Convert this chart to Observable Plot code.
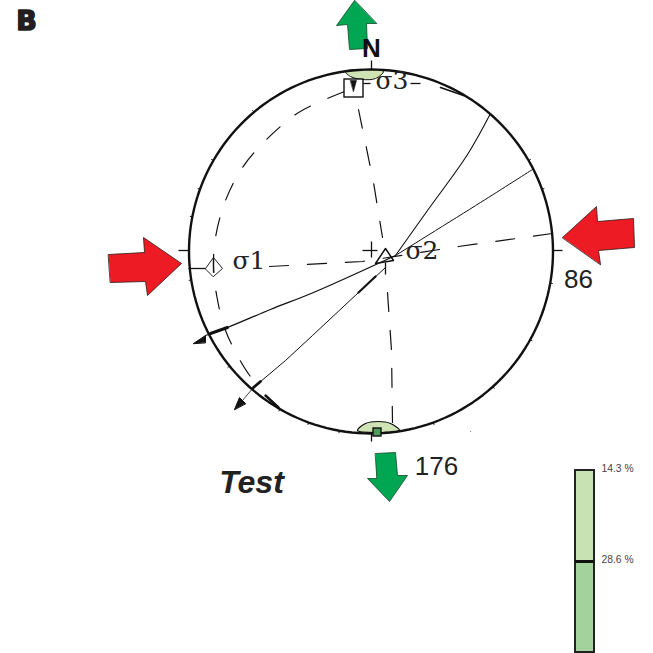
<!DOCTYPE html>
<html><head><meta charset="utf-8">
<script src="https://cdn.jsdelivr.net/npm/d3@7"></script>
<script src="https://cdn.jsdelivr.net/npm/@observablehq/plot@0.6"></script>
<style>html,body{margin:0;padding:0;background:#fff}svg{display:block}</style>
</head><body><div id="chart"></div>
<script>
// Stereonet units: origin at the net centre, x east, y north, radius 182.
const R = 182;
const azimuths = d3.range(0, 361, 2);
const rimTicks = [60,70,100,119,138,160,190,200,210,231,261,281,290,300,320];
const redWest = [[-262,-3],[-226,-1],[-227,14],[-189,-12],[-223,-44],[-225,-30],[-260,-31]];
const redEast = [[192,14],[226,45],[227,30],[263,33],[264,4],[228,1],[230,-13]];
const greenNorth = [[-16,251],[-34,226],[-23,227],[-21,202],[-3,203],[-4,228],[6,228]];
const greenSouth = [[5,-202],[25,-201],[27,-224],[37,-224],[19,-250],[-3,-227],[6,-227]];
const dashEW = [[-101,-15],[-8,-10],[88,5],[182,18]];
const dashNSnorth = [[-12,142],[3,69],[12,14]];
const dashNSsouth = [[17,-41],[21,-99],[22,-171]];
const dashCurve = [[-26,160],[-59,146],[-75,137],[-104,112],[-128,84],[-145,51],[-155,14],[-157,-14],[-154,-43],[-145,-79],[-128,-113],[-118,-128]];
const faultA = [[25,-4],[57,41],[97,97],[120,138]];
const faultB = [[25,-4],[110,49],[162,82]];
const faultC = [[25,-4],[-57,-41],[-100,-58],[-143,-76],[-165,-84]];
const faultD = [[15,-16],[-12,-41],[-58,-84],[-85,-109],[-117,-136]];
const faultDTail = [[-117,-136],[-128,-149]];
const thickC = [[-160,-82],[-143,-76]];
const thickD = [[5,-25],[-12,-41]];
const thickD2 = [[-117,-136],[-110,-130]];
const rimInnerSW = [[-105,-144],[-92,-156]];
const rimInnerNE = [[70,164],[93,156]];
const headC = [[-177,-92],[-165,-84],[-165,-91]];
const headD = [[-136,-158],[-131,-146],[-125,-152]];
const wedge = [[-20,171],[-14,171],[-17,160]];
const crescentN = [[-25,180],[-5,182],[13,180],[5,173],[-8,172],[-20,175]];
const crescentS = [[-13,-179],[-5,-172],[8,-170],[20,-172],[29,-179],[8,-181]];
const diamond = [[-165,-17],[-157,-6],[-148,-17],[-157,-25]];
const triangle = [[15,3],[5,-12],[23,-9]];
const ticks = [
  [1,191,1,182],[1,-182,1,-190],[183,1,192,1],[-192,1,-182,1],
  [-182,-17,-165,-17],[-157,-6,-157,-21],[-8,1,7,1],[1,10,1,-6],[15,-11,15,-23],
  [-7,168,0,168],[40,168,50,168]
];
const squares = [
  {x1:-26,x2:-7,y1:172,y2:154,fill:"#ffffff"},
  {x1:3,x2:11,y1:-177,y2:-185,fill:"#4f9a5d"}
];
const legendBars = [
  {x1:205,x2:224,y1:-219,y2:-310,fill:"#c9e2b3"},
  {x1:205,x2:224,y1:-310,y2:-401,fill:"#a3d29c"}
];
const legendLabels = ["14.3 %","28.6 %"];
const legendLabelX = [231,231];
const legendLabelY = [-217,-308];
const sigmaLabels = ["σ1","σ2","σ3"];
const sigmaX = [-138,35,5];
const sigmaY = [-9,1,171];

const pts = a => a.map(([x,y]) => ({x,y}));
const shape = (a, fill, stroke="#2a1a1a", sw=0.8, curve="linear-closed") => Plot.line(pts(a), {x:"x", y:"y", fill, stroke, strokeWidth:sw, curve});
const path = (a, sw=1, extra={}) => Plot.line(pts(a), {x:"x", y:"y", stroke:"#111", strokeWidth:sw, ...extra});
const circle = azimuths.map(a => ({x:0.5+R*Math.sin(a*Math.PI/180), y:R*Math.cos(a*Math.PI/180)}));
const dash = {strokeDasharray:"19 19"};

const plot = Plot.plot({
  width:653, height:653, margin:0,
  x:{domain:[-370,283], axis:null},
  y:{domain:[-402,251], axis:null},
  style:{background:"#fff"},
  marks:[
    shape(crescentN,"#cfe3b5","#111",1,"catmull-rom-closed"),
    shape(crescentS,"#cfe3b5","#111",1.2,"catmull-rom-closed"),
    path(dashEW,1.2,dash),
    path(dashNSnorth,1.2,dash),
    path(dashNSsouth,1.2,dash),
    path(dashCurve,1.2,{strokeDasharray:"18 19",curve:"catmull-rom"}),
    path(faultA,1.1,{curve:"catmull-rom"}),
    path(faultB,1,{curve:"catmull-rom"}),
    path(faultC,1.3,{curve:"catmull-rom"}),
    path(faultD,1),
    path(faultDTail,0.8),
    path(thickC,3),
    path(thickD,2.2),
    path(thickD2,2.8),
    path(rimInnerSW,2.4),
    path(rimInnerNE,1.6),
    Plot.line(circle,{x:"x",y:"y",stroke:"#111",strokeWidth:2.4}),
    Plot.link(rimTicks,{
      x1:a=>0.5+R*Math.sin(a*Math.PI/180), y1:a=>R*Math.cos(a*Math.PI/180),
      x2:a=>0.5+(R+2.5)*Math.sin(a*Math.PI/180), y2:a=>(R+2.5)*Math.cos(a*Math.PI/180),
      stroke:"#111",strokeWidth:1}),
    shape(headC,"#111","#111",1),
    shape(headD,"#111","#111",1),
    Plot.rect(squares,{x1:"x1",x2:"x2",y1:"y1",y2:"y2",fill:"fill",stroke:"#111",strokeWidth:1.4}),
    shape(wedge,"#111","#111",0.6),
    Plot.link(ticks,{x1:d=>d[0],y1:d=>d[1],x2:d=>d[2],y2:d=>d[3],stroke:"#111",strokeWidth:1.3}),
    shape(diamond,"none","#222",1),
    shape(triangle,"none","#111",1.5),
    Plot.dot([[100,-180]],{x:d=>d[0],y:d=>d[1],r:0.6,fill:"#777"}),
    shape(redWest,"#ed1c24"),
    shape(redEast,"#ed1c24"),
    shape(greenNorth,"#00a651","#124a2a"),
    shape(greenSouth,"#00a651","#124a2a"),
    Plot.text(sigmaLabels,{x:(d,i)=>sigmaX[i],y:(d,i)=>sigmaY[i],text:d=>d,fontFamily:"DejaVu Serif",fontSize:25,fill:"#222",textAnchor:"start"}),
    Plot.text(["N"],{x:[1],y:[203],text:d=>d,fontFamily:"Liberation Sans",fontWeight:"bold",fontSize:26,fill:"#111"}),
    Plot.text(["86"],{x:[208],y:[-28],text:d=>d,fontFamily:"Liberation Sans",fontSize:26,fill:"#222"}),
    Plot.text(["176"],{x:[66],y:[-215],text:d=>d,fontFamily:"Liberation Sans",fontSize:26,fill:"#222"}),
    Plot.text(["Test"],{x:[-119],y:[-231],text:d=>d,fontFamily:"Liberation Sans",fontWeight:"bold",fontStyle:"italic",fontSize:32,fill:"#222"}),
    Plot.text(["B"],{x:[-344],y:[230],text:d=>d,fontFamily:"DejaVu Sans",fontWeight:"bold",fontSize:27,fill:"#231f20",stroke:"#231f20",strokeWidth:1.6}),
    Plot.rect(legendBars,{x1:"x1",x2:"x2",y1:"y1",y2:"y2",fill:"fill",stroke:"#222",strokeWidth:2}),
    Plot.ruleY([-310],{x1:205,x2:224,stroke:"#111",strokeWidth:3}),
    Plot.text(legendLabels,{x:legendLabelX,y:legendLabelY,text:d=>d,fontFamily:"Liberation Sans",fontSize:10.3,fill:"#444",textAnchor:"start"})
  ]
});
document.getElementById("chart").append(plot);
</script></body></html>
